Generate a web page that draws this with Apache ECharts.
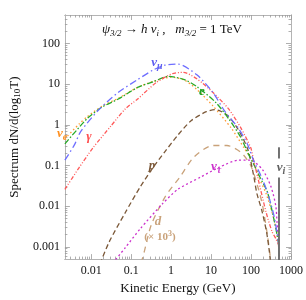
<!DOCTYPE html>
<html><head><meta charset="utf-8">
<script src="https://cdn.jsdelivr.net/npm/echarts@6/dist/echarts.min.js"></script>
<style>html,body{margin:0;padding:0;background:#fff}#c{width:306px;height:300px}</style>
</head><body><div id="c"></div>
<script>
// ---- data ----
const xTickValues = [0.01, 0.1, 1, 10, 100, 1000];
const xTickLabels = ['0.01', '0.1', '1', '10', '100', '1000'];
const yTickValues = [0.001, 0.01, 0.1, 1, 10, 100];
const yTickLabels = ['0.001', '0.01', '0.1', '1', '10', '100'];

const numuE = [0.0022, 0.0038, 0.0055, 0.0162, 0.048, 0.145, 0.36, 0.72, 1.48, 4.4, 11, 22.4, 48, 83, 115, 178, 257, 372, 447, 490, 500];
const numuS = [0.135, 0.32, 0.69, 2.45, 6.3, 12.9, 22.4, 29.5, 31, 17, 6.3, 2.1, 0.83, 0.32, 0.135, 0.055, 0.022, 0.006, 0.0022, 0.0011, 0.00001];

const gammaE = [0.0022, 0.005, 0.0112, 0.0316, 0.071, 0.145, 0.43, 1.07, 2.0, 4.4, 11, 27.5, 56, 98, 115, 148, 240, 339, 417, 490, 500];
const gammaS = [0.026, 0.089, 0.275, 0.95, 2.45, 4.3, 11, 18, 19.5, 13.5, 6.3, 2.45, 0.83, 0.275, 0.14, 0.05, 0.0069, 0.0023, 0.0016, 0.001, 0.00001];

const elecE = [0.0022, 0.0081, 0.019, 0.048, 0.145, 0.36, 0.85, 2.14, 4.4, 12.9, 27.5, 56, 87, 115, 166, 257, 372, 447, 490, 500];
const elecS = [0.34, 1.45, 2.75, 4.3, 8.3, 11.5, 15.5, 12.9, 8.7, 3.6, 1.41, 0.48, 0.186, 0.11, 0.052, 0.022, 0.0049, 0.002, 0.0011, 0.00001];

const nueE = [0.0022, 0.005, 0.0081, 0.019, 0.048, 0.145, 0.36, 1.0, 2.14, 4.4, 11, 32, 66, 115, 158, 240, 372, 447, 490, 500];
const nueS = [0.45, 1.05, 1.6, 2.9, 4.5, 8.3, 11.7, 14.8, 12.6, 7.4, 2.95, 0.83, 0.275, 0.12, 0.05, 0.02, 0.0049, 0.002, 0.001, 0.00001];

const protonE = [0.014, 0.028, 0.071, 0.17, 0.36, 0.68, 1.48, 3.16, 7.6, 12.6, 16.2, 27.5, 48, 83, 115, 141, 186, 245, 288, 316];
const protonS = [0.00025, 0.0013, 0.0069, 0.030, 0.091, 0.21, 0.56, 1.26, 2.1, 2.35, 2.24, 1.6, 0.76, 0.25, 0.06, 0.02, 0.0079, 0.0023, 0.00076, 0.0003];

const deutE = [0.178, 0.21, 0.32, 0.72, 1.66, 3.7, 11, 25, 56, 98, 148, 195, 257, 302, 330];
const deutS = [0.0004, 0.00072, 0.0035, 0.0174, 0.052, 0.16, 0.31, 0.31, 0.21, 0.10, 0.030, 0.0102, 0.00195, 0.00058, 0.0002];

const nutauE = [0.035, 0.071, 0.17, 0.62, 1.48, 5.5, 16.2, 48, 98, 195, 316, 417, 447, 490, 500];
const nutauS = [0.0004, 0.00095, 0.0028, 0.0117, 0.026, 0.052, 0.091, 0.135, 0.135, 0.078, 0.030, 0.01, 0.004, 0.001, 0.00001];

const nuiE = [500, 500];
const nuiS = [0.28, 0.0001];

// ---- helpers (decade axes: axis positions are log10 of the values) ----
const L = Math.log10;
const zip = (a, b) => a.map((v, i) => [L(v), L(b[i])]);
function minors(lo, hi) {
  const out = [];
  for (let p = -4; p <= 3; p++) for (let k = 2; k <= 9; k++) {
    const v = L(k) + p;
    if (v > lo && v < hi) out.push(v);
  }
  return out;
}
const XMIN = L(0.0022), XMAX = 3, YMIN = L(0.0005), YMAX = L(500);
const FRAME = '#b4b4b4', TICK = '#9a9a9a';
const SERIF = '"Liberation Serif","DejaVu Serif",serif';

function axis(kind, pos, vals, len, withLabels) {
  const isX = kind === 'x';
  const labelVals = (isX ? xTickValues : yTickValues).map(L);
  const labelTxt = isX ? xTickLabels : yTickLabels;
  const a = {
    type: 'value', position: pos, gridIndex: 0,
    min: isX ? XMIN : YMIN, max: isX ? XMAX : YMAX,
    axisLine: { show: true, onZero: false, lineStyle: { color: FRAME, width: 1 } },
    axisTick: { show: true, inside: true, length: len, customValues: vals, lineStyle: { color: TICK, width: 0.8 } },
    axisLabel: { show: false },
    splitLine: { show: false }, minorTick: { show: false }, minorSplitLine: { show: false }
  };
  if (withLabels) {
    a.axisLabel = {
      show: true, customValues: labelVals, fontFamily: SERIF, fontSize: 12, color: '#111',
      margin: isX ? 6 : 5,
      formatter: v => { const i = labelVals.findIndex(t => Math.abs(t - v) < 1e-6); return i >= 0 ? labelTxt[i] : ''; }
    };
  }
  return a;
}
const majX = xTickValues.map(L), majY = yTickValues.map(L);

const xAxes = [
  Object.assign(axis('x', 'bottom', majX, 5, true), {
    name: 'Kinetic Energy (GeV)', nameLocation: 'middle', nameGap: 22,
    nameTextStyle: { fontFamily: SERIF, fontSize: 13, color: '#111' }
  }),
  axis('x', 'bottom', minors(XMIN, XMAX), 2.5, false),
  axis('x', 'top', majX, 5, false),
  axis('x', 'top', minors(XMIN, XMAX), 2.5, false)
];
const yAxes = [
  Object.assign(axis('y', 'left', majY, 5, true), {
    name: 'Spectrum dN/d(log{s|10}T)', nameLocation: 'middle', nameGap: 40,
    nameTextStyle: { fontFamily: SERIF, fontSize: 13, color: '#111',
      rich: { s: { fontFamily: SERIF, fontSize: 9, color: '#111', verticalAlign: 'bottom', padding: [6, 0, 0, 0] } } }
  }),
  axis('y', 'left', minors(YMIN, YMAX), 2.5, false),
  axis('y', 'right', majY, 5, false),
  axis('y', 'right', minors(YMIN, YMAX), 2.5, false)
];

function line(name, E, S, color, dash, z) {
  return {
    name, type: 'line', xAxisIndex: 0, yAxisIndex: 0, data: zip(E, S),
    showSymbol: false, smooth: 0.25, clip: true, z: z || 2, silent: true,
    lineStyle: { color, width: 1.3, type: dash }
  };
}

const series = [
  line('d', deutE, deutS, '#c9a27a', [6, 5]),
  line('p', protonE, protonS, '#7b5838', [5, 3]),
  line('nutau', nutauE, nutauS, '#cc30cc', [2, 2.5]),
  line('nue', nueE, nueS, '#ff9a33', [1.5, 2.5]),
  line('e', elecE, elecS, '#28aa28', [6, 2, 1.5, 2]),
  line('gamma', gammaE, gammaS, '#ff5a5a', [4, 1.8, 1, 1.8, 1, 1.8]),
  line('numu', numuE, numuS, '#6e6eff', [7, 3, 1.5, 3]),
  { name: 'nui', type: 'line', xAxisIndex: 0, yAxisIndex: 0, data: zip(nuiE, nuiS), showSymbol: false, clip: true, z: 3,
    lineStyle: { color: '#707070', width: 2 } }
];

function richFor(color) {
  return {
    a: { fontFamily: SERIF, fontStyle: 'italic', fontWeight: 'bold', fontSize: 13, fill: color },
    s: { fontFamily: SERIF, fontStyle: 'italic', fontWeight: 'bold', fontSize: 10, fill: color, verticalAlign: 'bottom', padding: [7, 0, 0, 0] }
  };
}
function lbl(x, y, color, text, extra) {
  return { type: 'text', z: 20, style: Object.assign({ x, y, text, rich: richFor(color), align: 'center', verticalAlign: 'middle' }, extra || {}) };
}
const titleRich = {
  i: { fontFamily: SERIF, fontStyle: 'italic', fontSize: 13, fill: '#111' },
  r: { fontFamily: SERIF, fontSize: 13, fill: '#111' },
  s: { fontFamily: SERIF, fontStyle: 'italic', fontSize: 9, fill: '#111', verticalAlign: 'bottom', padding: [7, 0, 0, 0] }
};

const graphics = [
  { type: 'text', z: 20, style: { x: 102, y: 30, verticalAlign: 'middle', align: 'left', rich: titleRich,
    text: '{i|ψ}{s|3/2}{r| → }{i|h ν}{s|i}{r| ,   }{i|m}{s|3/2}{r| = 1 TeV}' } },
  lbl(157, 63, '#5f5ff0', '{a|ν}{s|μ}'),
  lbl(202, 92, '#22a022', '{a|e}'),
  lbl(62, 134, '#ff9020', '{a|ν}{s|e}'),
  lbl(89, 137, '#ff5050', '{a|γ}'),
  lbl(152, 166, '#7b5838', '{a|p}'),
  lbl(158, 222, '#c9a27a', '{a|d}'),
  { type: 'text', z: 20, style: { x: 160, y: 237, align: 'center', verticalAlign: 'middle', text: '{r|(× 10}{s|3}{r|)}',
    rich: { r: { fontFamily: SERIF, fontSize: 11, fontWeight: 'bold', fill: '#c9a27a' },
            s: { fontFamily: SERIF, fontSize: 8, fontWeight: 'bold', fill: '#c9a27a', verticalAlign: 'top', padding: [0, 0, 6, 0] } } } },
  lbl(216, 167, '#cc30cc', '{a|ν}{s|τ}'),
  lbl(281, 168, '#606060', '{a|ν}{s|i}', { backgroundColor: '#fff', padding: [1, 1, 1, 1] })
];

const chart = echarts.init(document.getElementById('c'), null, { renderer: 'canvas' });
chart.setOption({
  animation: false,
  backgroundColor: '#fff',
  grid: { left: 53, right: 11, top: 15, bottom: 35, containLabel: false },
  xAxis: xAxes,
  yAxis: yAxes,
  series,
  graphic: graphics
});
</script>
</body></html>
